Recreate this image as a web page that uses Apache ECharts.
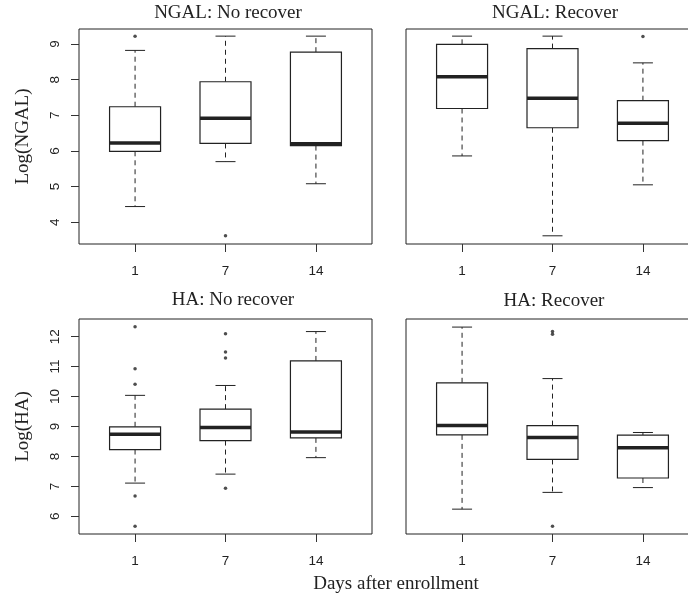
<!DOCTYPE html>
<html>
<head>
<meta charset="utf-8">
<script src="https://cdn.jsdelivr.net/npm/echarts@6/dist/echarts.min.js"></script>
<style>
  html, body { margin: 0; padding: 0; background: #fff; }
  #chart { width: 688px; height: 600px; }
</style>
</head>
<body>
<div id="chart"></div>
<script>
// day labels for box positions 1, 2, 3
var days = ['1', '7', '14'];
var positions = [1, 2, 3];

// box stats per day: [lower whisker, Q1, median, Q3, upper whisker]
var ngalNoRecover = [[4.44, 5.99, 6.22, 7.24, 8.82], [5.70, 6.21, 6.92, 7.94, 9.22], [5.08, 6.15, 6.20, 8.77, 9.22]];
var ngalRecover = [[5.86, 7.19, 8.08, 8.99, 9.22], [3.62, 6.65, 7.48, 8.87, 9.22], [5.05, 6.29, 6.78, 7.41, 8.47]];
var haNoRecover = [[7.11, 8.23, 8.74, 8.99, 10.04], [7.41, 8.53, 8.97, 9.58, 10.37], [7.96, 8.62, 8.82, 11.19, 12.17]];
var haRecover = [[6.24, 8.72, 9.03, 10.46, 12.32], [6.80, 7.90, 8.63, 9.03, 10.60], [6.96, 7.28, 8.29, 8.71, 8.80]];

// outliers: [position, value]
var ngalNoRecoverOut = [[1, 9.22], [2, 3.62]];
var ngalRecoverOut = [[3, 9.21]];
var haNoRecoverOut = [[1, 12.33], [1, 10.93], [1, 10.41], [1, 6.68], [1, 5.67], [2, 12.10], [2, 11.49], [2, 11.29], [2, 6.94]];
var haRecoverOut = [[2, 12.17], [2, 12.08], [2, 5.67]];

// y ticks
var ngalTicks = [4, 5, 6, 7, 8, 9];
var haTicks = [6, 7, 8, 9, 10, 11, 12];

var ink = '#222';
var serif = 'Liberation Serif';
var sans = 'Liberation Sans';

function renderBox(params, api) {
  var x = api.value(0);
  var lo = api.coord([x, api.value(1)]);
  var q1 = api.coord([x, api.value(2)]);
  var med = api.coord([x, api.value(3)]);
  var q3 = api.coord([x, api.value(4)]);
  var hi = api.coord([x, api.value(5)]);
  var cx = lo[0];
  var half = 25.5, cap = 10;
  var dash = { stroke: ink, lineWidth: 1, lineDash: [5, 4] };
  var solid = { stroke: ink, lineWidth: 1 };
  return {
    type: 'group',
    children: [
      { type: 'line', shape: { x1: cx, y1: q3[1], x2: cx, y2: hi[1] }, style: dash },
      { type: 'line', shape: { x1: cx, y1: q1[1], x2: cx, y2: lo[1] }, style: dash },
      { type: 'line', shape: { x1: cx - cap, y1: hi[1], x2: cx + cap, y2: hi[1] }, style: solid },
      { type: 'line', shape: { x1: cx - cap, y1: lo[1], x2: cx + cap, y2: lo[1] }, style: solid },
      { type: 'rect', shape: { x: cx - half, y: q3[1], width: half * 2, height: q1[1] - q3[1] },
        style: { fill: '#fff', stroke: ink, lineWidth: 1.2 } },
      { type: 'line', shape: { x1: cx - half, y1: med[1], x2: cx + half, y2: med[1] },
        style: { stroke: ink, lineWidth: 3.5 } }
    ]
  };
}

function boxData(stats) {
  return stats.map(function (s, i) { return [positions[i]].concat(s); });
}

var grids = [
  { left: 79, top: 29, width: 293, height: 215 },
  { left: 406, top: 29, width: 293, height: 215 },
  { left: 79, top: 319, width: 293, height: 215 },
  { left: 406, top: 319, width: 293, height: 215 }
];

function xAxis(i) {
  return {
    type: 'value', gridIndex: i, min: 0.38, max: 3.62,
    axisLine: { show: false },
    splitLine: { show: false },
    axisTick: { show: true, length: 8, customValues: positions, lineStyle: { color: '#333' } },
    axisLabel: {
      customValues: positions, margin: 20, color: ink, fontFamily: sans, fontSize: 13.5,
      formatter: function (v) { return days[positions.indexOf(v)]; }
    }
  };
}

function yAxis(i, min, max, ticks, name, showLabels) {
  return {
    type: 'value', gridIndex: i, min: min, max: max,
    name: showLabels ? name : '',
    nameLocation: 'middle', nameGap: 46,
    nameTextStyle: { fontFamily: serif, fontSize: 19, color: ink },
    axisLine: { show: false },
    splitLine: { show: false },
    axisTick: { show: showLabels, length: 8, customValues: ticks, lineStyle: { color: '#333' } },
    axisLabel: {
      show: showLabels, customValues: ticks, rotate: 90, margin: 17,
      color: ink, fontFamily: sans, fontSize: 13.5
    }
  };
}

function titleAt(text, x, y) {
  return {
    text: text, left: x, top: y, textAlign: 'center', padding: 0,
    textStyle: { fontFamily: serif, fontSize: 19, fontWeight: 'normal', color: ink }
  };
}

var panels = [ngalNoRecover, ngalRecover, haNoRecover, haRecover];
var outs = [ngalNoRecoverOut, ngalRecoverOut, haNoRecoverOut, haRecoverOut];

var series = [];
panels.forEach(function (stats, i) {
  series.push({
    type: 'custom', xAxisIndex: i, yAxisIndex: i,
    renderItem: renderBox, data: boxData(stats), clip: false
  });
  series.push({
    type: 'scatter', xAxisIndex: i, yAxisIndex: i,
    data: outs[i], symbolSize: 3.5, itemStyle: { color: ink }
  });
});

var option = {
  animation: false,
  backgroundColor: '#fff',
  title: [
    titleAt('NGAL: No recover', 228, 4),
    titleAt('NGAL: Recover', 555, 4),
    titleAt('HA: No recover', 233, 291),
    titleAt('HA: Recover', 554, 292),
    titleAt('Days after enrollment', 396, 575)
  ],
  grid: grids.map(function (g) {
    return Object.assign({
      show: true, borderColor: ink, borderWidth: 1, backgroundColor: 'transparent',
      containLabel: false, outerBoundsMode: 'none'
    }, g);
  }),
  xAxis: [xAxis(0), xAxis(1), xAxis(2), xAxis(3)],
  yAxis: [
    yAxis(0, 3.39, 9.42, ngalTicks, 'Log(NGAL)', true),
    yAxis(1, 3.39, 9.42, ngalTicks, '', false),
    yAxis(2, 5.41, 12.59, haTicks, 'Log(HA)', true),
    yAxis(3, 5.41, 12.59, haTicks, '', false)
  ],
  series: series
};

var chart = echarts.init(document.getElementById('chart'), null, { renderer: 'canvas' });
chart.setOption(option);
</script>
</body>
</html>
